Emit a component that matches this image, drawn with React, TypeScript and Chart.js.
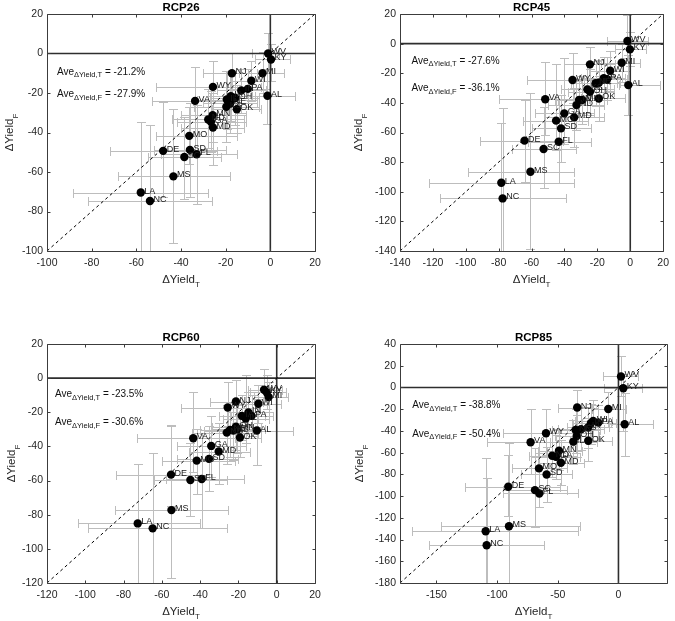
import { useEffect, useRef } from "react";
import { Chart, registerables } from "chart.js";

Chart.register(...registerables);

const FONT = '"Liberation Sans", Arial, Helvetica, sans-serif';
const ERR_COLOR = "#bdbdbd";
const CAP = 4.5;

// ---------------- RCP26 ----------------
const STATES_26 = ["WV", "KY", "MI", "NJ", "WI", "PA", "IN", "WY", "AL", "VA", "IA", "IL", "OH", "NE", "KS", "OK", "MN", "ND", "GA", "MD", "MO", "SD", "FL", "SC", "DE", "MS", "LA", "NC"];
const X_26 = [-1, 0.3, -3.5, -17.2, -8.5, -10.1, -13, -25.7, -1.3, -33.7, -17.7, -19.5, -15.7, -18, -19.7, -15, -25.8, -27.8, -26.6, -25.7, -36.3, -36, -33, -38.5, -48, -43.4, -58, -53.9];
const Y_26 = [0, -3, -10, -10, -13.8, -17.9, -18.7, -16.9, -21.4, -24, -21.6, -23.3, -22.5, -25.3, -27, -28.2, -31.2, -33.4, -34.6, -37.5, -41.7, -48.8, -51, -52.4, -49.3, -62.2, -70.4, -74.7];
const XLO_26 = [-8, -7, -14, -30, -18, -20, -24, -51, -8, -53, -28, -33, -27, -30, -34, -26, -40, -44, -42, -40, -51, -52, -49, -55, -72, -68, -88.5, -81.5];
const XHI_26 = [4, 9, 6, -6, 0, 0, -2, -4, 11, -14, -7, -6, -5, -6, -5, -4, -11, -12, -11, -12, -15, -20, -15, -22, -24, -18, -28, -26];
const YLO_26 = [-8, -14, -20, -20, -24, -28, -30, -30, -35.5, -52, -34, -38, -36, -40, -45, -40, -45, -48, -50, -56.5, -56, -72.7, -76.4, -73.5, -72.7, -96, -110, -110];
const YHI_26 = [10.5, 5, 1, 0, -4, -8, -8, -4, -8, -6.6, -9, -9, -10, -11, -9, -16, -17, -18, -19, -20, -27, -25, -26, -32, -24.5, -28, -34.6, -36.3];
const TICKS_26 = [-100, -80, -60, -40, -20, 0, 20];

// ---------------- RCP45 ----------------
const STATES_45 = ["WV", "KY", "MI", "NJ", "WI", "PA", "IA", "IL", "NE", "AL", "WY", "KS", "OH", "OK", "VA", "IN", "MN", "ND", "GA", "MD", "MO", "SD", "FL", "DE", "SC", "MS", "LA", "NC"];
const X_45 = [-1.7, -0.2, -5.2, -24.5, -12.2, -14.1, -16.1, -19.1, -21.1, -1.2, -35.1, -26.1, -24.5, -19.1, -51.7, -31.1, -29.1, -32.7, -40.1, -34.1, -45.1, -42.1, -43.5, -64.3, -52.7, -60.7, -78.4, -77.6];
const Y_45 = [1.8, -3.9, -12.9, -14, -18.3, -24.1, -23.4, -26.4, -26.8, -28, -24.6, -30.9, -32.5, -37, -37.6, -38.1, -38.1, -41.5, -47.1, -49.8, -52, -57.2, -66.2, -65.5, -71.1, -86.5, -93.9, -104.5];
const XLO_45 = [-14, -9.3, -18, -40, -25, -28, -30, -33, -36, -7, -63, -42, -38, -30, -80, -46, -44, -50, -58, -52, -65, -60, -62, -91.4, -72, -98.4, -122.4, -115.4];
const XHI_45 = [10.8, 9.8, 6, -9, 0, -2, -3, -6, -8, 17.8, -13, -10, -10, -3.4, -25, -16, -14, -16, -22, -16, -26, -24, -24, -41, -33, -34.1, -34.1, -39.1];
const YLO_45 = [-10, -15, -26, -28, -32, -38, -38, -42, -42, -48, -40, -48, -48, -52, -62, -52, -54, -58, -68, -70, -72, -80, -94.3, -93.2, -97.7, -138.8, -150, -150];
const YHI_45 = [19, 8, 0, -2, -5, -9, -9, -11, -12, -8, -6, -14, -17, -22, -12.2, -24, -22, -25, -10, -30, -14, -35, -38, -38, -43, -33.6, -53.8, -43.3];
const XTICKS_45 = [-140, -120, -100, -80, -60, -40, -20, 0, 20];
const YTICKS_45 = [-140, -120, -100, -80, -60, -40, -20, 0, 20];

// ---------------- RCP60 ----------------
const STATES_60 = ["WV", "KY", "MI", "WI", "NJ", "WY", "IN", "PA", "IA", "IL", "OH", "NE", "KS", "ND", "MN", "AL", "OK", "VA", "GA", "MD", "SD", "MO", "DE", "SC", "FL", "MS", "LA", "NC"];
const X_60 = [-6.6, -5.2, -4.2, -9.6, -21.3, -25.6, -14.8, -13.1, -18.3, -16.2, -21.3, -24.4, -22.7, -26.1, -20.6, -10.4, -19.2, -43.6, -34.2, -30.3, -35.4, -41.8, -55.2, -45.1, -39.2, -55, -72.6, -64.8];
const Y_60 = [-6.8, -8.4, -11.1, -15, -13.7, -17.2, -20.1, -22.1, -22.1, -23.7, -28.4, -30.3, -30.7, -31.9, -29.9, -30.7, -34.8, -35.2, -39.7, -43, -47.3, -48.3, -56.5, -59.7, -59.1, -77.3, -85.1, -88];
const XLO_60 = [-15, -14, -12, -20, -35, -50, -26, -24, -30, -28, -34, -40, -38, -44, -34, -15.7, -30, -73, -52, -46, -52, -60, -84.2, -64, -58, -84.5, -103.9, -98.8];
const XHI_60 = [3, 5, 6, 2, -7, -8.7, -4, -2, -6, -4, -8, -10, -8, -10, -6, 8.4, -8, -22, -16, -14, -20, -22, -35.2, -26, -17, -25.6, -40, -26.1];
const YLO_60 = [-16, -18, -20, -26, -26, -28, -32, -34, -36, -38, -42, -46, -48, -50, -44, -51, -46, -55, -58, -62, -66, -68, -75, -81, -88, -116.8, -130, -130];
const YHI_60 = [5.3, 2, -2, -4, -1.3, -2, -8, -10, -10, 2, -15, -14, -14, -16, -16, -12, -22, -8, -22, -26, -28, -30, -28, -38, -32, -27.4, -50.5, -44];
const XTICKS_60 = [-120, -100, -80, -60, -40, -20, 0, 20];
const YTICKS_60 = [-120, -100, -80, -60, -40, -20, 0, 20];

// ---------------- RCP85 ----------------
const STATES_85 = ["WV", "KY", "MI", "NJ", "AL", "PA", "WI", "IN", "IA", "WY", "NE", "KS", "OH", "IL", "OK", "VA", "MN", "ND", "GA", "MD", "MO", "SD", "DE", "SC", "FL", "MS", "LA", "NC"];
const X_85 = [2.1, 4, -8.4, -34, 5.1, -16.6, -20.8, -22.7, -24.9, -59.7, -35.3, -30.9, -34.4, -37.2, -24.9, -72.4, -49, -54.6, -51.5, -47.4, -65.5, -59.2, -90.8, -68.8, -65.2, -90.2, -109.4, -108.6];
const Y_85 = [10.1, -0.7, -19.8, -18.5, -33.9, -32.4, -30.8, -33, -36.8, -42.2, -39.1, -38.5, -44.7, -49.9, -49, -50.5, -58.2, -62.8, -63.8, -69.3, -74.5, -80.1, -91.4, -94.5, -97.6, -127.7, -132.3, -145.3];
const XLO_85 = [-13, -11.7, -22, -50, -8, -30, -36, -38, -42, -95, -55, -50, -52, -56, -40, -108.6, -66, -74, -72, -66, -88, -80, -126.5, -95, -95, -146.5, -169.9, -155.9];
const XHI_85 = [16.3, 19.1, 6, -17, 28.6, -2, -5, -6, -8, -23.5, -15, -12, -16, -18, -5.6, -37.2, -30, -34, -32, -28, -42, -38, -48.2, -42, -33.6, -31.7, -33.6, -61.2];
const YLO_85 = [-8, -40, -36, -36, -62.8, -48, -48, -52, -56, -62, -60, -58, -64, -70, -68, -80, -76, -82, -84, -90, -98, -105, -118, -128.4, -110, -195, -195, -195];
const YHI_85 = [29.2, 12, -4, -2, -5.3, -16, -12, -15, -18, -20, -20, -18, -25, -30, -28, -20, -38, -42, -44, -48, -50, -55, -62, -56, -60, -50.8, -65.3, -83.7];
const XTICKS_85 = [-150, -100, -50, 0];
const YTICKS_85 = [-180, -160, -140, -120, -100, -80, -60, -40, -20, 0, 20, 40];

type Panel = {
  title: string;
  states: string[];
  x: number[];
  y: number[];
  xlo: number[];
  xhi: number[];
  ylo: number[];
  yhi: number[];
  xMin: number;
  xMax: number;
  yMin: number;
  yMax: number;
  xTicks: number[];
  yTicks: number[];
  aveT: string;
  aveF: string;
  annX: number;
  annY1: number;
  annY2: number;
  box: { left: number; top: number; width: number; height: number };
  pad: { left: number; top: number; right: number; bottom: number };
  yTitleGap: number;
};

const PANELS: Panel[] = [
  {
    title: "RCP26", states: STATES_26, x: X_26, y: Y_26, xlo: XLO_26, xhi: XHI_26, ylo: YLO_26, yhi: YHI_26,
    xMin: -100, xMax: 20, yMin: -100, yMax: 20, xTicks: TICKS_26, yTicks: TICKS_26,
    aveT: " = -21.2%", aveF: " = -27.9%", annX: -95.5, annY1: -9, annY2: -20.4,
    box: { left: 0, top: 0, width: 337, height: 310 },
    pad: { left: 47, top: 14, right: 22, bottom: 59 }, yTitleGap: 38,
  },
  {
    title: "RCP45", states: STATES_45, x: X_45, y: Y_45, xlo: XLO_45, xhi: XHI_45, ylo: YLO_45, yhi: YHI_45,
    xMin: -140, xMax: 20, yMin: -140, yMax: 20, xTicks: XTICKS_45, yTicks: YTICKS_45,
    aveT: " = -27.6%", aveF: " = -36.1%", annX: -133, annY1: -11.3, annY2: -29.8,
    box: { left: 337, top: 0, width: 338, height: 310 },
    pad: { left: 63, top: 14, right: 8, bottom: 59 }, yTitleGap: 42,
  },
  {
    title: "RCP60", states: STATES_60, x: X_60, y: Y_60, xlo: XLO_60, xhi: XHI_60, ylo: YLO_60, yhi: YHI_60,
    xMin: -120, xMax: 20, yMin: -120, yMax: 20, xTicks: XTICKS_60, yTicks: YTICKS_60,
    aveT: " = -23.5%", aveF: " = -30.6%", annX: -115.8, annY1: -9, annY2: -25.6,
    box: { left: 0, top: 310, width: 337, height: 311 },
    pad: { left: 47, top: 34, right: 22, bottom: 38 }, yTitleGap: 36,
  },
  {
    title: "RCP85", states: STATES_85, x: X_85, y: Y_85, xlo: XLO_85, xhi: XHI_85, ylo: YLO_85, yhi: YHI_85,
    xMin: -180, xMax: 40, yMin: -180, yMax: 40, xTicks: XTICKS_85, yTicks: YTICKS_85,
    aveT: " = -38.8%", aveF: " = -50.4%", annX: -169.9, annY1: -15.8, annY2: -41.9,
    box: { left: 337, top: 310, width: 338, height: 311 },
    pad: { left: 63, top: 34, right: 8, bottom: 38 }, yTitleGap: 41,
  },
];

function f(size: number, bold = false) {
  return `${bold ? "bold " : ""}${size}px ${FONT}`;
}

function drawSubText(
  ctx: CanvasRenderingContext2D, x: number, y: number,
  main: string, sub: string, tail: string,
  mainSize: number, subSize: number, drop: number, align: "left" | "center",
) {
  ctx.font = f(mainSize);
  const w1 = ctx.measureText(main).width;
  const w3 = tail ? ctx.measureText(tail).width : 0;
  ctx.font = f(subSize);
  const w2 = ctx.measureText(sub).width;
  let sx = x;
  if (align === "center") sx = x - (w1 + w2 + w3) / 2;
  ctx.textAlign = "left";
  ctx.textBaseline = "alphabetic";
  ctx.font = f(mainSize);
  ctx.fillText(main, sx, y);
  ctx.font = f(subSize);
  ctx.fillText(sub, sx + w1, y + drop);
  if (tail) {
    ctx.font = f(mainSize);
    ctx.fillText(tail, sx + w1 + w2, y);
  }
}

function makeDecor(p: Panel) {
  return {
    id: "decor" + p.title,
    beforeDatasetsDraw(chart: any) {
      const { ctx, chartArea: a, scales } = chart;
      const sx = scales.x;
      const sy = scales.y;
      ctx.save();
      ctx.beginPath();
      ctx.rect(a.left, a.top, a.right - a.left, a.bottom - a.top);
      ctx.clip();
      ctx.strokeStyle = ERR_COLOR;
      ctx.lineWidth = 1;
      ctx.beginPath();
      for (let i = 0; i < p.x.length; i++) {
        const cx = Math.round(sx.getPixelForValue(p.x[i])) + 0.5;
        const cy = Math.round(sy.getPixelForValue(p.y[i])) + 0.5;
        const x1 = Math.round(sx.getPixelForValue(p.xlo[i])) + 0.5;
        const x2 = Math.round(sx.getPixelForValue(p.xhi[i])) + 0.5;
        const y1 = Math.round(sy.getPixelForValue(p.ylo[i])) + 0.5;
        const y2 = Math.round(sy.getPixelForValue(p.yhi[i])) + 0.5;
        ctx.moveTo(x1, cy); ctx.lineTo(x2, cy);
        ctx.moveTo(x1, cy - CAP); ctx.lineTo(x1, cy + CAP);
        ctx.moveTo(x2, cy - CAP); ctx.lineTo(x2, cy + CAP);
        ctx.moveTo(cx, y1); ctx.lineTo(cx, y2);
        ctx.moveTo(cx - CAP, y1); ctx.lineTo(cx + CAP, y1);
        ctx.moveTo(cx - CAP, y2); ctx.lineTo(cx + CAP, y2);
      }
      ctx.stroke();
      ctx.restore();
    },
    afterDatasetsDraw(chart: any) {
      const { ctx, chartArea: a, scales } = chart;
      const sx = scales.x;
      const sy = scales.y;
      ctx.save();
      ctx.fillStyle = "#1a1a1a";
      ctx.font = f(9);
      ctx.textAlign = "left";
      ctx.textBaseline = "middle";
      for (let i = 0; i < p.x.length; i++) {
        const cx = sx.getPixelForValue(p.x[i]);
        const cy = sy.getPixelForValue(p.y[i]);
        ctx.fillText(p.states[i], cx + 3.5, cy - 1.5);
      }
      const L = Math.floor(a.left) + 0.5;
      const T = Math.floor(a.top) + 0.5;
      const R = Math.floor(a.right) + 0.5;
      const B = Math.floor(a.bottom) + 0.5;
      ctx.strokeStyle = "#3c3c3c";
      ctx.lineWidth = 1;
      ctx.beginPath();
      ctx.rect(L, T, R - L, B - T);
      for (const v of p.xTicks) {
        const px = Math.round(sx.getPixelForValue(v)) + 0.5;
        ctx.moveTo(px, B); ctx.lineTo(px, B - 3);
        ctx.moveTo(px, T); ctx.lineTo(px, T + 3);
      }
      for (const v of p.yTicks) {
        const py = Math.round(sy.getPixelForValue(v)) + 0.5;
        ctx.moveTo(L, py); ctx.lineTo(L + 3, py);
        ctx.moveTo(R, py); ctx.lineTo(R - 3, py);
      }
      ctx.stroke();
      ctx.fillStyle = "#111";
      const ax = sx.getPixelForValue(p.annX);
      const ay1 = sy.getPixelForValue(p.annY1) + 3.6;
      const ay2 = sy.getPixelForValue(p.annY2) + 3.6;
      drawSubText(ctx, ax, ay1, "Ave", "\u0394Yield,T", p.aveT, 10, 7.5, 2.5, "left");
      drawSubText(ctx, ax, ay2, "Ave", "\u0394Yield,F", p.aveF, 10, 7.5, 2.5, "left");
      ctx.restore();
    },
    afterDraw(chart: any) {
      const { ctx, chartArea: a } = chart;
      ctx.save();
      ctx.fillStyle = "#000";
      ctx.font = f(11.5, true);
      ctx.textAlign = "center";
      ctx.textBaseline = "alphabetic";
      ctx.fillText(p.title, (a.left + a.right) / 2, a.top - 3.5);
      ctx.fillStyle = "#262626";
      drawSubText(ctx, (a.left + a.right) / 2, a.bottom + 31.5, "\u0394Yield", "T", "", 11.5, 8, 4.8, "center");
      ctx.translate(a.left - p.yTitleGap, (a.top + a.bottom) / 2);
      ctx.rotate(-Math.PI / 2);
      drawSubText(ctx, 0, 4, "\u0394Yield", "F", "", 11.5, 8, 4.8, "center");
      ctx.restore();
    },
  };
}

function PanelChart({ p }: { p: Panel }) {
  const ref = useRef<HTMLCanvasElement | null>(null);
  useEffect(() => {
    if (!ref.current) return;
    const dLo = Math.max(p.xMin, p.yMin);
    const dHi = Math.min(p.xMax, p.yMax);
    const tickFont = { family: FONT, size: 10.5 };
    const chart = new Chart(ref.current, {
      type: "scatter",
      data: {
        datasets: [
          {
            data: p.x.map((v, i) => ({ x: v, y: p.y[i] })),
            pointRadius: 4.2,
            pointHoverRadius: 4.2,
            backgroundColor: "#000",
            borderColor: "#000",
            borderWidth: 0,
            order: 0,
          },
          {
            data: [{ x: dLo, y: dLo }, { x: dHi, y: dHi }],
            showLine: true,
            borderColor: "#000",
            borderWidth: 1,
            borderDash: [3, 3],
            pointRadius: 0,
            order: 1,
          },
          {
            data: [{ x: 0, y: p.yMin }, { x: 0, y: p.yMax }],
            showLine: true,
            borderColor: "#2e2e2e",
            borderWidth: 1.6,
            pointRadius: 0,
            order: 2,
          },
          {
            data: [{ x: p.xMin, y: 0 }, { x: p.xMax, y: 0 }],
            showLine: true,
            borderColor: "#2e2e2e",
            borderWidth: 1.6,
            pointRadius: 0,
            order: 2,
          },
        ],
      } as any,
      options: {
        animation: false,
        responsive: false,
        devicePixelRatio: 1,
        events: [],
        layout: { padding: { left: 0, top: p.pad.top, right: p.pad.right, bottom: 0 } },
        plugins: {
          legend: { display: false },
          tooltip: { enabled: false },
          title: { display: false },
        },
        scales: {
          x: {
            type: "linear",
            min: p.xMin,
            max: p.xMax,
            grid: { display: false, drawTicks: false },
            border: { display: false },
            ticks: { color: "#262626", font: tickFont, padding: 6, autoSkip: false, maxRotation: 0 },
            afterBuildTicks: (s: any) => { s.ticks = p.xTicks.map((v) => ({ value: v })); },
            afterFit: (s: any) => { s.height = p.pad.bottom; },
          },
          y: {
            type: "linear",
            min: p.yMin,
            max: p.yMax,
            grid: { display: false, drawTicks: false },
            border: { display: false },
            ticks: { color: "#262626", font: tickFont, padding: 4, autoSkip: false },
            afterBuildTicks: (s: any) => { s.ticks = p.yTicks.map((v) => ({ value: v })); },
            afterFit: (s: any) => { s.width = p.pad.left; },
          },
        },
      } as any,
      plugins: [makeDecor(p)],
    });
    return () => chart.destroy();
  }, [p]);
  return (
    <canvas
      ref={ref}
      width={p.box.width}
      height={p.box.height}
      style={{
        position: "absolute",
        left: p.box.left,
        top: p.box.top,
        width: p.box.width,
        height: p.box.height,
        display: "block",
      }}
    />
  );
}

export default function App() {
  return (
    <div style={{ position: "absolute", left: 0, top: 0, width: 675, height: 621, background: "#fff", overflow: "hidden" }}>
      {PANELS.map((p) => (
        <PanelChart key={p.title} p={p} />
      ))}
    </div>
  );
}
